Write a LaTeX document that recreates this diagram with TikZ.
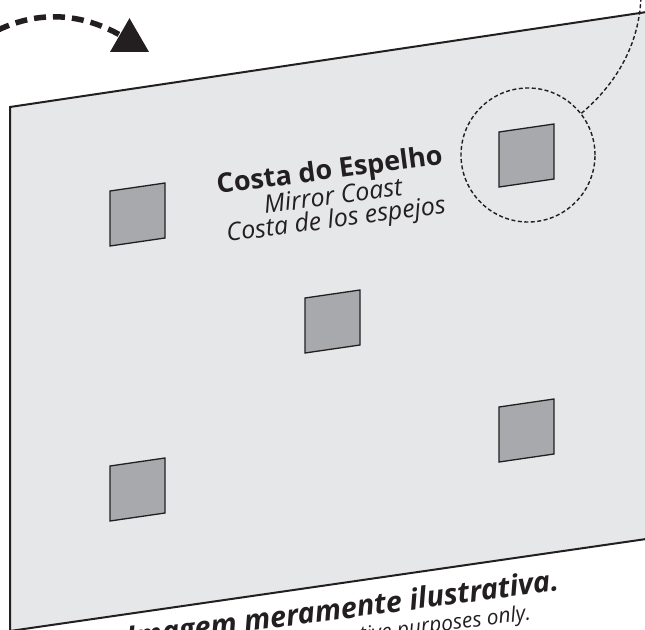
\documentclass[tikz,border=0pt]{standalone}
\usepackage{fontspec}
\setmainfont{Open Sans}
\usepackage{tikz}
\usetikzlibrary{shapes.geometric}
\definecolor{inkblack}{RGB}{35,31,32}
\definecolor{panelgray}{RGB}{230,231,232}
\definecolor{mirrorgray}{RGB}{167,169,172}

\begin{document}
\begin{tikzpicture}[x=1pt, y=-1pt,
  mirror/.style={fill=mirrorgray, draw=inkblack, line width=1.3pt},
  ring/.style={draw=inkblack, line width=1.4pt, dash pattern=on 4pt off 2.5pt},
  bigdash/.style={draw=inkblack, line width=5.5pt, dash pattern=on 12pt off 7pt}]
  \useasboundingbox (0,0) rectangle (645,629);
  \clip (0,0) rectangle (645,629);
  % Panel
  \filldraw[fill=panelgray, draw=inkblack, line width=2pt] (10,107) -- (660,10) -- (660,537) -- (10,631) -- cycle;
  % Mirrors
  \foreach \x/\y in {110/191, 305/298, 499/132, 110/466, 499/407}
    \draw[mirror] (\x,\y) -- ++(55,-8) -- ++(0,55) -- ++(-55,8) -- cycle;
  % Label
  \node[inkblack, rotate=7.5, align=center, font=\fontsize{25}{23}\selectfont\itshape] (coastname) at (333,196)
    {{\upshape\bfseries\fontsize{27}{23}\selectfont Costa do Espelho}\\Mirror Coast\\Costa de los espejos};
  % Zoom ring and leader
  \node[circle, ring, minimum size=134pt, inner sep=0pt] (zoomring) at (528,155) {};
  \coordinate (leadend) at (641,-5);
  \draw[ring] (zoomring.38) .. controls (615,85) and (640,45) .. (leadend);
  % Turn arrow
  \node[regular polygon, regular polygon sides=3, fill=inkblack, minimum size=45pt, inner sep=0pt] (tip) at (129.5,40.7) {};
  \coordinate (arcstart) at (-2,30);
  \draw[bigdash] (arcstart) .. controls (40,10) and (85,12) .. (tip.center);
  % Disclaimer
  \node[inkblack, rotate=7.5, anchor=base east, font=\fontsize{29}{29}\selectfont\bfseries\itshape] (notept) at (563,590) {Imagem meramente ilustrativa.};
  \node[inkblack, rotate=7.5, anchor=base east, font=\fontsize{21}{21}\selectfont\itshape] (noteen) at (535,619) {Image for illustrative purposes only.};
\end{tikzpicture}
\end{document}
